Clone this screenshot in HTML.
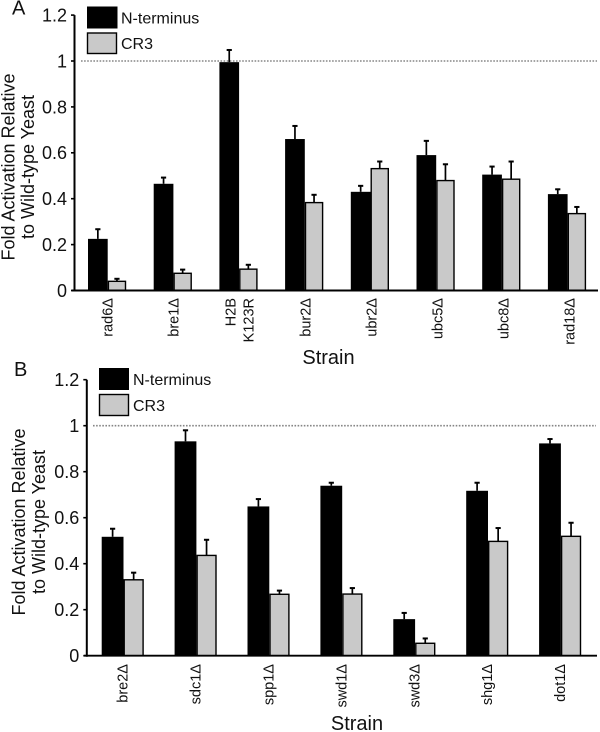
<!DOCTYPE html>
<html lang="en">
<head>
<meta charset="utf-8">
<title>Fold Activation Relative to Wild-type Yeast</title>
<style>
html,body{margin:0;padding:0;background:#fff;}
svg{display:block;font-family:"Liberation Sans",sans-serif;fill:#111;}
</style>
</head>
<body>
<svg id="figure" width="600" height="732" viewBox="0 0 600 732" xmlns="http://www.w3.org/2000/svg">
  <rect x="0" y="0" width="600" height="732" fill="#fff"/>
  <g id="panel-a">
    <text x="12" y="14.5" font-size="20">A</text>
    <text transform="translate(14.5,167) rotate(-90)" text-anchor="middle" font-size="18">Fold Activation Relative</text>
    <text transform="translate(34,167) rotate(-90)" text-anchor="middle" font-size="18">to Wild-type Yeast</text>
    <text x="328.5" y="364" text-anchor="middle" font-size="20">Strain</text>
    <rect x="87.5" y="7" width="29.5" height="21" fill="#000" stroke="#000" stroke-width="1"/>
    <text x="121" y="23.5" font-size="16">N-terminus</text>
    <rect x="87.5" y="33" width="29" height="20.5" fill="#c9c9c9" stroke="#000" stroke-width="1.4"/>
    <text x="121" y="49" font-size="16">CR3</text>
  </g>
  <g id="panel-b">
    <text x="14" y="376" font-size="20">B</text>
    <text transform="translate(25,522) rotate(-90)" text-anchor="middle" font-size="18">Fold Activation Relative</text>
    <text transform="translate(45,522) rotate(-90)" text-anchor="middle" font-size="18">to Wild-type Yeast</text>
    <text x="357" y="730" text-anchor="middle" font-size="20">Strain</text>
    <rect x="99.5" y="368.5" width="29" height="21" fill="#000" stroke="#000" stroke-width="1"/>
    <text x="133" y="385" font-size="16">N-terminus</text>
    <rect x="99.5" y="394.5" width="29" height="21" fill="#c9c9c9" stroke="#000" stroke-width="1.4"/>
    <text x="133" y="411" font-size="16">CR3</text>
  </g>
</svg>
<script>
const tickValues = [0, 0.2, 0.4, 0.6, 0.8, 1, 1.2];
const tickLabels = ["0", "0.2", "0.4", "0.6", "0.8", "1", "1.2"];
const referenceValue = 1;

const strainsA = [["rad6Δ"], ["bre1Δ"], ["H2B", "K123R"], ["bur2Δ"], ["ubr2Δ"], ["ubc5Δ"], ["ubc8Δ"], ["rad18Δ"]];
const nTerminusA = [0.225, 0.465, 0.995, 0.66, 0.43, 0.59, 0.505, 0.42];
const nTerminusErrorA = [0.042, 0.027, 0.053, 0.057, 0.026, 0.062, 0.035, 0.021];
const cr3A = [0.04, 0.075, 0.093, 0.383, 0.531, 0.479, 0.485, 0.335];
const cr3ErrorA = [0.011, 0.016, 0.019, 0.034, 0.031, 0.071, 0.077, 0.029];

const strainsB = [["bre2Δ"], ["sdc1Δ"], ["spp1Δ"], ["swd1Δ"], ["swd3Δ"], ["shg1Δ"], ["dot1Δ"]];
const nTerminusB = [0.517, 0.932, 0.649, 0.739, 0.159, 0.717, 0.923];
const nTerminusErrorB = [0.035, 0.048, 0.032, 0.013, 0.027, 0.035, 0.019];
const cr3B = [0.33, 0.436, 0.267, 0.268, 0.054, 0.497, 0.519];
const cr3ErrorB = [0.031, 0.068, 0.016, 0.026, 0.021, 0.058, 0.059];

const SVG_NS = "http://www.w3.org/2000/svg";

function make(parent, tag, attrs, text) {
  const node = document.createElementNS(SVG_NS, tag);
  for (const key in attrs) node.setAttribute(key, attrs[key]);
  if (text !== undefined) node.textContent = text;
  parent.appendChild(node);
  return node;
}

function drawBar(parent, x, w, top, base, isDark) {
  const inset = isDark ? 0 : 0.7;
  return make(parent, "rect", {
    x: x + inset,
    y: top,
    width: w - inset * 2,
    height: Math.max(0, base - top),
    fill: isDark ? "#000" : "#c9c9c9",
    stroke: "#000",
    "stroke-width": isDark ? 0 : 1.4
  });
}

function drawError(parent, cx, top, base) {
  const g = make(parent, "g", { stroke: "#000", "stroke-width": 1.7, fill: "none" });
  make(g, "line", { x1: cx, x2: cx, y1: top, y2: base });
  make(g, "line", { x1: cx - 2.6, x2: cx + 2.6, y1: top, y2: top, "stroke-width": 2 });
  return g;
}

function drawPanel(root, geo, strains, dark, darkErr, light, lightErr) {
  const y = v => geo.y0 - v * geo.unit;
  const barX = i => geo.first + i * geo.step;
  const labelX = i => geo.labelFirst + i * geo.labelStep;

  const refLine = make(root, "line", {
    x1: geo.refStart, x2: geo.xEnd, y1: y(referenceValue), y2: y(referenceValue),
    stroke: "#858585", "stroke-width": 1.6, "stroke-dasharray": "1.6 1.5"
  });
  
  

  strains.forEach((strain, i) => {
    const darkBar = drawBar(root, barX(i), geo.darkW, y(dark[i]), geo.y0, true);
    
    

    const darkCap = drawError(root, barX(i) + geo.darkW / 2, y(dark[i] + darkErr[i]), y(dark[i]));
    
    

    const lightBar = drawBar(root, barX(i) + geo.darkW, geo.lightW, y(light[i]), geo.y0, false);
    
    

    const lightCap = drawError(root, barX(i) + geo.darkW + geo.lightW / 2, y(light[i] + lightErr[i]), y(light[i]));
    
    

    strain.forEach((line, n) => {
      const offset = (n - (strain.length - 1) / 2) * 18;
      const label = make(root, "text", {
        transform: "translate(" + (labelX(i) + offset) + "," + geo.labelTop + ") rotate(-90)",
        "text-anchor": "end",
        "font-size": 14.5
      }, line);
      
      
    });
  });

  const yAxis = make(root, "line", {
    x1: geo.axisX, x2: geo.axisX, y1: y(tickValues[tickValues.length - 1]), y2: geo.y0 + 1,
    stroke: "#000", "stroke-width": 2
  });
  
  

  const xAxis = make(root, "line", {
    x1: geo.axisX - 3, x2: geo.xEnd + 1, y1: geo.y0, y2: geo.y0,
    stroke: "#000", "stroke-width": 1.9
  });
  
  

  tickValues.forEach((value, i) => {
    const tick = make(root, "line", {
      x1: geo.axisX - 3.5, x2: geo.axisX, y1: y(value), y2: y(value),
      stroke: "#000", "stroke-width": 1.6
    });
    
    

    const tickText = make(root, "text", {
      x: geo.axisX - 7.5, y: y(value) + 6.4, "text-anchor": "end", "font-size": 18
    }, tickLabels[i]);
    
    
  });
}

drawPanel(document.getElementById("panel-a"),
  { y0: 290.5, unit: 229.5, first: 88, step: 65.7, darkW: 19.7, lightW: 18.5, axisX: 74.5, refStart: 81, xEnd: 597,
    labelFirst: 112.5, labelStep: 66, labelTop: 298 },
  strainsA, nTerminusA, nTerminusErrorA, cr3A, cr3ErrorA);

drawPanel(document.getElementById("panel-b"),
  { y0: 655.7, unit: 230, first: 101.7, step: 72.9, darkW: 21.8, lightW: 20.3, axisX: 86.8, refStart: 93, xEnd: 596,
    labelFirst: 127.7, labelStep: 72.9, labelTop: 664 },
  strainsB, nTerminusB, nTerminusErrorB, cr3B, cr3ErrorB);
</script>
</body>
</html>
